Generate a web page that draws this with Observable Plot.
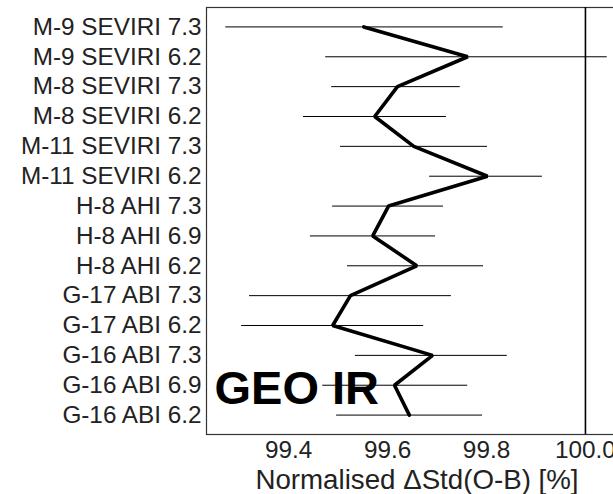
<!DOCTYPE html>
<html><head><meta charset="utf-8">
<script src="https://cdn.jsdelivr.net/npm/d3@7"></script>
<script src="https://cdn.jsdelivr.net/npm/@observablehq/plot@0.6"></script>
<style>
html,body{margin:0;padding:0;background:#fff;overflow:hidden;}
#wrap{width:613px;height:494px;overflow:hidden;}
#wrap svg{max-width:none !important;}
</style>
</head><body><div id="wrap"></div>
<script>
const labels = ["M-9 SEVIRI 7.3","M-9 SEVIRI 6.2","M-8 SEVIRI 7.3","M-8 SEVIRI 6.2","M-11 SEVIRI 7.3","M-11 SEVIRI 6.2","H-8 AHI 7.3","H-8 AHI 6.9","H-8 AHI 6.2","G-17 ABI 7.3","G-17 ABI 6.2","G-16 ABI 7.3","G-16 ABI 6.9","G-16 ABI 6.2"];
const centre = [99.552,99.762,99.620,99.574,99.653,99.802,99.602,99.570,99.659,99.525,99.489,99.691,99.614,99.644];
const low    = [99.273,99.475,99.487,99.430,99.505,99.685,99.489,99.444,99.519,99.321,99.305,99.535,99.469,99.497];
const high   = [99.834,100.044,99.747,99.719,99.802,99.913,99.713,99.697,99.794,99.729,99.673,99.842,99.762,99.792];
const xTicks = [99.4,99.6,99.8,100.0];
const refValue = 100.0;
const title = "GEO IR";
const xLabel = "Normalised ΔStd(O-B) [%]";

const rows = labels.map((l,i)=>({label:l, c:centre[i], lo:low[i], hi:high[i]}));

const chart = Plot.plot({
  width: 627, height: 494,
  marginLeft: 206, marginRight: 0, marginTop: 7, marginBottom: 60,
  style: {fontFamily: "'Liberation Sans', Arial, sans-serif", fontSize: "24.3px", color: "#222", background: "#fff", maxWidth: "none"},
  x: {domain: [99.234, 100.085], ticks: xTicks, tickFormat: d3.format(".1f"), label: xLabel},
  y: {type: "point", domain: labels, padding: 0.65, round: false, label: null},
  marks: [
    Plot.frame({stroke: "#333", strokeWidth: 1.2}),
    Plot.ruleX([refValue], {stroke: "#000", strokeWidth: 1.6}),
    Plot.ruleY(rows, {y: "label", x1: "lo", x2: "hi", stroke: "#000", strokeWidth: 1}),
    Plot.line(rows, {x: "c", y: "label", stroke: "#000", strokeWidth: 3.6, strokeLinejoin: "miter"}),
    Plot.text([title], {frameAnchor: "bottom-left", textAnchor: "start", lineAnchor: "bottom", dx: 8, dy: -31, fontSize: 47, fontWeight: "bold", fill: "#000"}),
    Plot.axisY({tickSize: 0, tickPadding: 5, fontSize: 24.3, label: null}),
    Plot.axisX({tickSize: 0, tickPadding: 6, fontSize: 24.3, ticks: xTicks, tickFormat: d3.format(".1f"), label: xLabel, labelAnchor: "center", labelArrow: "none", labelOffset: 54})
  ]
});
chart.querySelectorAll("[aria-label='x-axis label']").forEach(e=>e.setAttribute("font-size","27.7"));
document.getElementById("wrap").appendChild(chart);
</script>
</body></html>
